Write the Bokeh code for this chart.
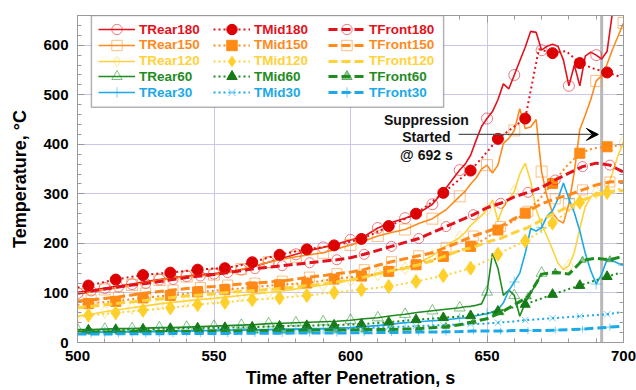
import numpy as np
from bokeh.plotting import figure
from bokeh.models import (Range1d, LinearAxis, SingleIntervalTicker, Span, Arrow, VeeHead,
                          Label, Legend, LegendItem, BoxAnnotation)
from bokeh.embed import file_html
from bokeh.resources import INLINE

FONT = "Liberation Sans"

# ---------------- data ----------------
t_rear = list(range(500, 641, 5)) + list(range(642, 701, 2))
t_mid = [500] + list(range(504, 700, 5))
t_front = list(range(500, 701, 5))

rear180 = [100, 105, 110, 114, 118, 123, 127, 131, 134, 137, 139, 142, 147, 154, 162, 170, 178, 186, 192, 199,
           207, 214, 231, 242, 251, 261, 279, 312, 348,
           360, 378, 408, 436, 452, 466, 490, 522, 512, 540,
           568, 596, 628, 626, 590, 598, 602, 598, 570, 518,
           560, 518, 578, 586, 580, 572, 588, 668, 700, 720]
rear150 = [98, 102, 107, 111, 116, 121, 126, 130, 133, 135, 137, 141, 148, 155, 162, 168, 173, 177, 181, 189,
           197, 205, 215, 222, 228, 240, 250, 268, 295,
           305, 320, 332, 350, 358, 342, 358, 402, 412, 428,
           472, 432, 435, 450, 345, 294, 262, 247, 241, 280,
           345, 430, 459, 490, 528, 538, 562, 592, 618, 645]
rear120 = [53, 57, 62, 66, 70, 74, 78, 81, 84, 87, 89, 92, 95, 98, 101, 104, 108, 112, 116, 121,
           126, 131, 138, 144, 150, 160, 175, 195, 212,
           222, 236, 246, 256, 268, 288, 245, 275, 288, 305,
           340, 362, 325, 268, 238, 214, 188, 160, 147, 155,
           182, 230, 274, 294, 303, 301, 311, 342, 378, 405]
rear60 = [26, 26, 27, 28, 28, 29, 30, 30, 31, 32, 33, 34, 35, 36, 38, 39, 40, 41, 42, 43,
          45, 48, 50, 54, 57, 61, 64, 67, 70,
          72, 73, 75, 78, 102, 180, 150, 95, 106, 95,
          53, 80, 100, 118, 140]
rear30 = [20, 20, 21, 21, 22, 22, 22, 23, 23, 24, 24, 25, 25, 26, 26, 27, 27, 28, 28, 29,
          30, 32, 34, 37, 40, 42, 44, 46, 49,
          50, 52, 54, 56, 58, 62, 66, 80, 105, 122,
          140, 180, 230, 225, 232, 255, 266, 290, 322, 290,
          262, 225, 180, 145, 118, 138, 168, 165, 160, 156]

mid180 = [111, 115, 121, 127, 132, 136, 139, 141, 144, 147, 149, 150, 155, 162, 170, 177, 183, 188, 192, 196,
          202, 209, 221, 235, 247, 260, 280, 302, 325, 347, 378, 411, 432, 452, 592, 584, 588, 564, 553, 545, 536]
mid150 = [76, 78.5, 81, 83, 87, 90, 93, 95, 98, 102, 104, 106.6, 109, 112, 114, 116.7, 118, 120, 124, 128,
          131, 134, 138, 143.5, 150, 157, 165, 173.6, 183, 194, 208, 227, 243, 261, 288, 321, 355, 382, 392, 395, 398]
mid120 = [52, 55, 57, 60, 62.5, 65, 67.5, 70, 73, 76.5, 79, 81, 84, 86.5, 88, 90, 92.5, 95, 98, 101,
          104, 106.6, 110, 113, 118, 123, 129, 135, 142, 150, 163, 178, 192, 205, 222, 241, 262, 283, 295, 303, 311]
mid60 = [24, 25, 25.5, 26, 26.5, 27, 27.5, 28, 28.5, 29, 29.5, 30, 30.5, 31, 32, 33, 33.5, 34, 34.5, 35,
         36, 37, 39, 41, 43.5, 46, 48, 50, 52, 54, 58, 63, 70, 77, 87, 97, 106, 115, 124, 133, 141]
mid30 = [21, 21, 21.5, 22, 22, 22.5, 23, 23, 23.5, 24, 24, 24.5, 25, 25, 25.5, 26, 26, 26.5, 27, 27,
         28, 29, 30, 31, 32, 33, 34, 35, 36, 37, 38, 40, 42, 45, 47, 49, 51, 53, 55, 57, 61]

front180 = [100, 104, 108, 112, 116, 119, 123, 127, 131, 134, 137, 141, 145, 149, 152, 155, 158, 161, 164, 167,
            171, 178, 186, 194, 202, 210, 222, 234, 246, 258, 272, 281, 294, 303, 313, 328, 342, 355, 362, 358, 344]
front150 = [83, 86, 89, 92, 96, 100, 103, 106, 109, 111, 113, 116, 118, 120, 122, 124, 128, 132, 135, 139,
            142, 147, 156, 163, 169, 175, 181, 192, 203, 215, 224, 234, 250, 265, 280, 290, 298, 308, 318, 324, 325]
front120 = [70, 73, 76, 79, 82, 85, 88, 91, 94, 96, 98, 101, 103, 105, 107, 109, 112, 115, 118, 122,
            126, 132, 139, 145, 150, 157, 165, 175, 186, 192, 203, 210, 222, 232, 247, 262, 274, 288, 297, 304, 307]
front60 = [21, 21, 21, 21, 22, 22, 22, 22, 22, 23, 23, 23, 23, 24, 24, 24, 24, 25, 25, 25,
           25, 26, 26, 26, 27, 28, 30, 32, 36, 42, 48, 60, 76, 92, 138, 142, 138, 166, 170, 167, 174]
front30 = [17, 17, 17, 17.5, 17.5, 17.5, 17.5, 18, 18, 18, 18, 18, 18.5, 18.5, 18.5, 18.5, 19, 19, 19, 19,
           19.5, 19.5, 20, 20, 20.5, 21, 21, 21.5, 22, 23, 23, 23, 24, 24, 24, 25, 26, 27, 29, 31, 33]

suppression_t = 692

# ---------------- style ----------------
RED = "#e3121c"
ORANGE = "#ff8a1c"
YELLOW = "#ffd23a"
GREEN = "#1f8c1f"
CYAN = "#1ba9e8"

series = [
    ("TRear180", t_rear, rear180, "rear", RED, "circle"),
    ("TRear150", t_rear, rear150, "rear", ORANGE, "square"),
    ("TRear120", t_rear, rear120, "rear", YELLOW, "diamond"),
    ("TRear60", t_rear, rear60, "rear", GREEN, "triangle"),
    ("TRear30", t_rear, rear30, "rear", CYAN, "cross"),
    ("TMid180", t_mid, mid180, "mid", RED, "circle"),
    ("TMid150", t_mid, mid150, "mid", ORANGE, "square"),
    ("TMid120", t_mid, mid120, "mid", YELLOW, "diamond"),
    ("TMid60", t_mid, mid60, "mid", GREEN, "triangle"),
    ("TMid30", t_mid, mid30, "mid", CYAN, "x"),
    ("TFront180", t_front, front180, "front", RED, "circle"),
    ("TFront150", t_front, front150, "front", ORANGE, "square"),
    ("TFront120", t_front, front120, "front", YELLOW, None),
    ("TFront60", t_front, front60, "front", GREEN, "triangle"),
    ("TFront30", t_front, front30, "front", CYAN, "cross"),
]

mid_marker_color = {"TMid180": "#dd0000", "TMid150": "#ff8a14", "TMid120": "#ffd02a",
                    "TMid60": "#167a16", "TMid30": CYAN}
mid_marker_size = {"circle": 11, "square": 10, "diamond": 14, "triangle": 10, "x": 9}
rear_marker_size = {"circle": 11, "square": 11, "diamond": 13, "triangle": 11, "cross": 11}
front_marker_size = {"circle": 10, "square": 10, "triangle": 7, "cross": 7}

p = figure(width=636, height=390, x_range=Range1d(500, 700), y_range=Range1d(0, 660),
           output_backend="svg", toolbar_location=None,
           min_border_left=77, min_border_right=13, min_border_top=15, min_border_bottom=47)

bottom_ax = p.below[0]
left_ax = p.left[0]

p.background_fill_color = "white"
p.outline_line_color = "#9a9a9a"
p.outline_line_width = 1

xt = SingleIntervalTicker(interval=50, num_minor_ticks=5)
yt = SingleIntervalTicker(interval=100, num_minor_ticks=5)
bottom_ax.ticker = xt
left_ax.ticker = yt
p.xgrid.ticker = xt
p.ygrid.ticker = yt
p.xgrid.grid_line_color = "#c8c8ef"
p.ygrid.grid_line_color = "#c8c8ef"

top_ax = LinearAxis(ticker=xt)
right_ax = LinearAxis(ticker=yt)
p.add_layout(top_ax, "above")
p.add_layout(right_ax, "right")

for ax in [bottom_ax, left_ax, top_ax, right_ax]:
    ax.axis_line_color = "#9a9a9a"
    ax.major_tick_line_color = "#9a9a9a"
    ax.minor_tick_line_color = "#9a9a9a"
    ax.major_tick_in = 7
    ax.major_tick_out = 0
    ax.minor_tick_in = 4
    ax.minor_tick_out = 0
    ax.major_label_text_font = FONT
    ax.major_label_text_font_style = "bold"
    ax.major_label_text_font_size = "15px"
    ax.major_label_text_color = "black"
    ax.axis_label_text_font = FONT
    ax.axis_label_text_font_style = "bold"
    ax.axis_label_text_font_size = "18px"
    ax.axis_label_text_color = "black"

for ax in [top_ax, right_ax]:
    ax.major_label_text_font_size = "1px"
    ax.major_label_text_color = None
    ax.major_label_standoff = 0

bottom_ax.axis_label = "Time after Penetration, s"
left_ax.axis_label = "Temperature, °C"
bottom_ax.major_label_standoff = 8
left_ax.major_label_standoff = 9
bottom_ax.axis_label_standoff = 4
left_ax.axis_label_standoff = 10

# suppression line
p.add_layout(Span(location=suppression_t, dimension="height", line_color="#b8b8b8",
                  line_width=3, level="underlay"))

renderers = {}
for name, t, vals, grp, color, marker in series:
    t = np.array(t[:len(vals)], dtype=float)
    v = np.array(vals, dtype=float)
    rs = []
    if grp == "rear":
        rs.append(p.line(t, v, line_color=color, line_width=1.6))
        if marker:
            m = (t % 10 == 0)
            rs.append(p.scatter(t[m], v[m], marker=marker, size=rear_marker_size[marker],
                                line_color=color, line_alpha=0.55, fill_color=None, line_width=1))
    elif grp == "mid":
        rs.append(p.line(t, v, line_color=color, line_width=2, line_dash="2 3"))
        m = ((t - 504) % 10 == 0)
        mc = mid_marker_color[name]
        if marker == "x":
            rs.append(p.scatter(t[m], v[m], marker="x", size=mid_marker_size[marker],
                                line_color=mc, line_alpha=0.6, line_width=1))
        else:
            rs.append(p.scatter(t[m], v[m], marker=marker, size=mid_marker_size[marker],
                                line_color=mc, fill_color=mc, line_width=1))
    else:
        rs.append(p.line(t, v, line_color=color, line_width=3, line_dash="9 4"))
        if marker:
            m = ((t - 505) % 10 == 0)
            if marker in ("circle", "square"):
                rs.append(p.scatter(t[m], v[m], marker=marker, size=front_marker_size[marker],
                                    line_color=color, line_alpha=0.55, fill_color=None, line_width=1))
            else:
                rs.append(p.scatter(t[m], v[m], marker=marker, size=front_marker_size[marker],
                                    line_color=color, line_alpha=0.6, fill_color=color,
                                    fill_alpha=0.5, line_width=1))
    renderers[name] = rs

# annotation
p.add_layout(Arrow(end=VeeHead(size=12, fill_color="black", line_color="black"),
                   x_start=639.6, y_start=420, x_end=690.8, y_end=420,
                   line_color="#555555", line_width=1.2))
for txt, yy in [("Suppression", 450), ("Started", 414), ("@ 692 s", 379)]:
    p.add_layout(Label(x=627.8, y=yy, text=txt, text_align="center", text_baseline="middle",
                       text_font=FONT, text_font_style="bold", text_font_size="14px",
                       text_color="#111111"))

# legend frame
p.add_layout(BoxAnnotation(left=505.1, right=634.1, bottom=475, top=660,
                           fill_color="white", fill_alpha=1.0, line_color="black",
                           line_width=1.5))

rows = [
    (["TRear180", "TMid180", "TFront180"], RED),
    (["TRear150", "TMid150", "TFront150"], ORANGE),
    (["TRear120", "TMid120", "TFront120"], YELLOW),
    (["TRear60", "TMid60", "TFront60"], GREEN),
    (["TRear30", "TMid30", "TFront30"], CYAN),
]
row_centers = [30, 45.8, 61.6, 77.4, 93.2]
frame_bottom = 343
GH = 26
for (names, color), yc in zip(rows, row_centers):
    items = [LegendItem(label=n, renderers=renderers[n]) for n in names]
    leg = Legend(items=items, orientation="horizontal",
                 location=(21, frame_bottom - (yc + GH / 2)),
                 label_text_color=color, label_text_font=FONT, label_text_font_style="bold",
                 label_text_font_size="13.5px", glyph_width=37, glyph_height=GH,
                 label_standoff=4, label_width=74, label_height=GH, spacing=0,
                 padding=0, margin=0, border_line_color=None, background_fill_alpha=0)
    p.add_layout(leg)

open("out.html", "w").write(file_html(p, INLINE))
